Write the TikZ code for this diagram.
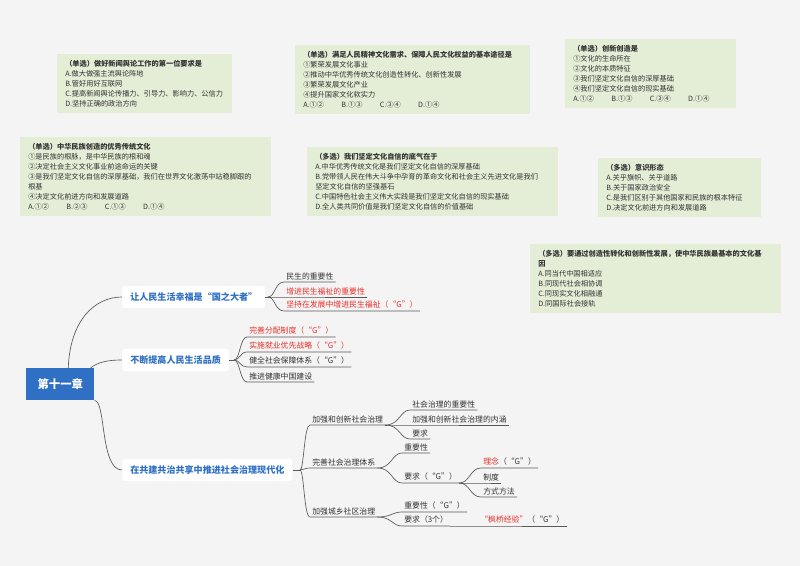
\documentclass[tikz,border=0pt]{standalone}
\usepackage{fontspec}
\setmainfont{Noto Sans CJK SC}
\XeTeXlinebreaklocale "zh"
\XeTeXlinebreakskip=0pt plus 1pt
\begin{document}
\begin{tikzpicture}[x=0.75pt,y=-0.75pt,
  q/.style={anchor=north west,fill=qgreen,align=left,inner xsep=6pt,inner ysep=4.5pt,font=\fontsize{5.4}{7.5}\selectfont,text=black!80},
  br/.style={anchor=west,fill=white,rounded corners=2pt,font=\fontsize{6.8}{8}\selectfont\bfseries,text=tblue,inner xsep=6pt,inner ysep=5pt},
  ch/.style={anchor=south west,inner sep=1.5pt,font=\fontsize{5.9}{7}\selectfont,text=black!80},
  red/.style={text=tred},
  ln/.style={draw=black!65,line width=0.5pt}]
\definecolor{qgreen}{HTML}{E4EDD6}
\definecolor{tblue}{HTML}{2F6FC4}
\definecolor{tred}{HTML}{E8302A}
\definecolor{bg}{HTML}{F4F4F4}
\newcommand\gp{\hspace{13pt}}
\fill[bg] (0,0) rectangle (800,566);
\useasboundingbox (0,0) rectangle (800,566);
% question boxes
\node[q,text width=119pt,minimum height=43pt] (q1) at (57,54) {\textbf{（单选）做好新闻舆论工作的第一位要求是}\\A.做大做强主流舆论阵地\\B.管好用好互联网\\C.提高新闻舆论传播力、引导力、影响力、公信力\\D.坚持正确的政治方向};
\node[q,text width=164pt,minimum height=50pt] (q2) at (295,45) {\textbf{（单选）满足人民精神文化需求、保障人民文化权益的基本途径是}\\①繁荣发展文化事业\\②推动中华优秀传统文化创造性转化、创新性发展\\③繁荣发展文化产业\\④提升国家文化软实力\\A.①②\gp B.①③\gp C.③④\gp D.①④};
\node[q,text width=116pt,minimum height=50pt] (q3) at (565,39) {\textbf{（单选）创新创造是}\\①文化的生命所在\\②文化的本质特征\\③我们坚定文化自信的深厚基础\\④我们坚定文化自信的现实基础\\A.①②\gp B.①③\gp C.③④\gp D.①④};
\node[q,text width=176pt,minimum height=57pt] (q4) at (20,137) {\textbf{（单选）中华民族创造的优秀传统文化}\\①是民族的根脉，是中华民族的根和魂\\②决定社会主义文化事业前途命运的关键\\③是我们坚定文化自信的深厚基础，我们在世界文化激荡中站稳脚跟的\\根基\\④决定文化前进方向和发展道路\\A.①②\gp B.②③\gp C.①③\gp D.①④};
\node[q,text width=176pt,minimum height=50pt] (q5) at (307,147) {\textbf{（多选）我们坚定文化自信的底气在于}\\A.中华优秀传统文化是我们坚定文化自信的深厚基础\\B.党带领人民在伟大斗争中孕育的革命文化和社会主义先进文化是我们\\坚定文化自信的坚强基石\\C.中国特色社会主义伟大实践是我们坚定文化自信的现实基础\\D.全人类共同价值是我们坚定文化自信的价值基础};
\node[q,text width=110pt,minimum height=43pt] (q6) at (598,158) {\textbf{（多选）意识形态}\\A.关乎旗帜、关乎道路\\B.关于国家政治安全\\C.是我们区别于其他国家和民族的根本特征\\D.决定文化前进方向和发展道路};
\node[q,text width=176pt,minimum height=51pt] (q7) at (530,244) {\textbf{（多选）要通过创造性转化和创新性发展，使中华民族最基本的文化基}\\\textbf{因}\\A.同当代中国相适应\\B.同现代社会相协调\\C.同现实文化相融通\\D.同国际社会接轨};
% central
\node[fill=tblue,text=white,font=\fontsize{8.5}{10}\selectfont\bfseries,minimum width=51pt,minimum height=24pt,anchor=north west] (c) at (26,368) {第十一章};
\node[br] (b1) at (122,297) {让人民生活幸福是“国之大者”};
\node[br] (b2) at (122,360) {不断提高人民生活品质};
\node[br] (b3) at (122,470) {在共建共治共享中推进社会治理现代化};
\draw[ln] ([xshift=6pt]c.north) .. controls (70,320) and (95,297) .. (b1.west);
\draw[ln] ([xshift=-3pt]c.north east) .. controls (98,362) and (108,360) .. (b2.west);
\draw[ln] (c.south east) .. controls (106,400) and (100,470) .. (b3.west);
% branch 1 children
\node[ch] (a1) at (284,282) {民生的重要性};
\node[ch,red] (a2) at (284,297) {增进民生福祉的重要性};
\node[ch,red] (a3) at (284,311) {坚持在发展中增进民生福祉（“G”）};
\coordinate (f1) at (268,297);
\draw[ln] (b1.east) -- (f1);
\foreach \n in {a1,a2,a3}{\draw[ln] (f1) .. controls (275,297) and (275,0 |- \n.south west) .. (\n.south west) -- (\n.south east);}
% branch 2 children
\node[ch,red] (d1) at (247,337) {完善分配制度（“G”）};
\node[ch,red] (d2) at (247,352) {实施就业优先战略（“G”）};
\node[ch] (d3) at (247,367) {健全社会保障体系（“G”）};
\node[ch] (d4) at (247,382) {推进健康中国建设};
\coordinate (f2) at (234,360);
\draw[ln] (b2.east) -- (f2);
\foreach \n in {d1,d2,d3,d4}{\draw[ln] (f2) .. controls (240,360) and (240,0 |- \n.south west) .. (\n.south west) -- (\n.south east);}
% branch 3
\node[ch] (e1) at (310,425) {加强和创新社会治理};
\node[ch] (e2) at (310,468) {完善社会治理体系};
\node[ch] (e3) at (310,517) {加强城乡社区治理};
\coordinate (f3) at (300,470);
\draw[ln] (b3.east) -- (f3);
\foreach \n in {e1,e2,e3}{\draw[ln] (f3) .. controls (304,470) and (304,0 |- \n.south west) .. (\n.south west) -- (\n.south east);}
% e1 children
\node[ch] (g1) at (410,410) {社会治理的重要性};
\node[ch] (g2) at (410,425) {加强和创新社会治理的内涵};
\node[ch] (g3) at (410,439) {要求};
\foreach \n in {g1,g2,g3}{\draw[ln] (e1.south east) .. controls (400,425) and (400,0 |- \n.south west) .. (\n.south west) -- (\n.south east);}
% e2 children
\node[ch] (h1) at (402,453) {重要性};
\node[ch] (h2) at (402,483) {要求（“G”）};
\foreach \n in {h1,h2}{\draw[ln] (e2.south east) .. controls (392,468) and (392,0 |- \n.south west) .. (\n.south west) -- (\n.south east);}
\node[ch] (k1) at (481,468) {\textcolor{tred}{理念}（“G”）};
\node[ch] (k2) at (481,483) {制度};
\node[ch] (k3) at (481,497) {方式方法};
\foreach \n in {k1,k2,k3}{\draw[ln] (h2.south east) .. controls (470,483) and (470,0 |- \n.south west) .. (\n.south west) -- (\n.south east);}
% e3 children
\node[ch] (m1) at (402,512) {重要性（“G”）};
\node[ch] (m2) at (402,526) {要求（3个）};
\foreach \n in {m1,m2}{\draw[ln] (e3.south east) .. controls (392,517) and (392,0 |- \n.south west) .. (\n.south west) -- (\n.south east);}
\node[ch] (n1) at (478,526) {\textcolor{tred}{“枫桥经验”}（“G”）};
\draw[ln] (m2.south east) -- (n1.south west) -- (n1.south east);
\end{tikzpicture}
\end{document}
